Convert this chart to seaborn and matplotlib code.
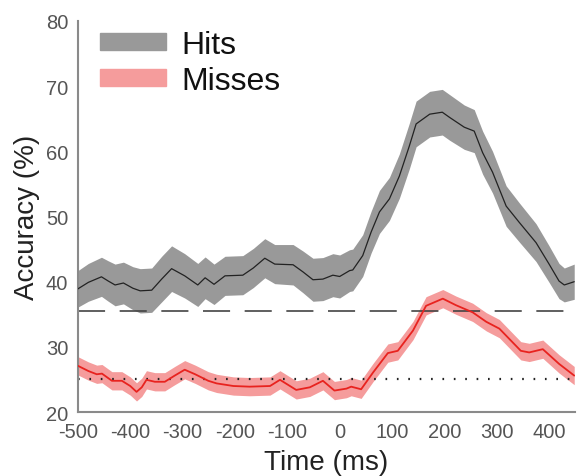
import matplotlib
matplotlib.use("Agg")
import matplotlib.pyplot as plt
import matplotlib.patches as mpatches
import seaborn as sns
import numpy as np
import pandas as pd

# ---- data ----
hits_t = [-500, -480, -455, -442, -429, -413, -395, -381, -359, -340, -321, -296, -271, -257,
          -240, -219, -185, -165, -143, -124, -89, -70, -51, -32, -13, 0, 19, 25, 44, 60, 76,
          95, 114, 133, 146, 172, 196, 210, 238, 257, 273, 292, 318, 343, 375, 400, 419, 429, 448]
hits_mean = [38.9, 39.9, 40.75, 40.1, 39.5, 39.8, 39.0, 38.6, 38.7, 40.4, 42.0, 40.9, 39.5, 40.6,
             39.6, 40.9, 41.0, 42.1, 43.6, 42.7, 42.6, 41.5, 40.3, 40.4, 41.0, 40.8, 41.7, 41.8,
             44.0, 47.6, 50.7, 52.7, 56.2, 60.8, 64.2, 65.7, 66.0, 65.2, 63.7, 63.1, 59.8, 56.8,
             51.6, 49.1, 46.0, 42.7, 40.1, 39.5, 40.0]
hits_err = [2.8, 2.9, 3.0, 3.1, 3.2, 3.2, 3.3, 3.4, 3.4, 3.5, 3.5, 3.4, 3.3, 3.2,
            3.1, 3.0, 3.0, 3.0, 3.0, 3.0, 3.1, 3.2, 3.3, 3.3, 3.3, 3.3, 3.2, 3.2,
            3.2, 3.2, 3.3, 3.3, 3.4, 3.5, 3.5, 3.5, 3.5, 3.5, 3.4, 3.3, 3.3, 3.2,
            3.1, 3.0, 2.9, 2.8, 2.7, 2.6, 2.7]

miss_t = [-500, -480, -464, -454, -435, -416, -400, -388, -378, -369, -353, -334, -315, -296,
          -276, -251, -235, -203, -172, -133, -114, -83, -57, -32, -10, 13, 22, 41, 64, 92, 111,
          140, 165, 197, 222, 254, 280, 305, 346, 362, 388, 419, 448]
miss_mean = [27.1, 26.3, 25.8, 25.9, 24.8, 24.8, 24.0, 23.1, 23.8, 24.95, 24.65, 24.65, 25.6, 26.5,
             25.8, 24.8, 24.4, 24.0, 23.9, 24.0, 24.95, 23.4, 23.8, 24.8, 23.3, 23.6, 23.9, 23.5,
             26.1, 29.05, 29.4, 32.5, 36.3, 37.4, 36.4, 35.3, 33.85, 32.8, 29.4, 29.15, 29.65,
             27.4, 25.6]
miss_err = [1.4] * len(miss_t)

dashed_level = 35.5
chance_level = 25.0

x_ticks = [-500, -400, -300, -200, -100, 0, 100, 200, 300, 400]
y_ticks = [20, 30, 40, 50, 60, 70, 80]
series_labels = ["Hits", "Misses"]

# ---- styling ----
sns.set_style("white")
plt.rcParams['font.family'] = ['Liberation Sans', 'DejaVu Sans']

hits_band = "#999999"
miss_band = "#f59c9c"
miss_line = "#e8231f"
spine_col = "#8a8a8a"
tick_col = "#555555"

fig = plt.figure(figsize=(5.77, 4.77), dpi=100)
ax = fig.add_axes([0.135, 0.134, 0.862, 0.82])

hits_df = pd.DataFrame({"t": hits_t, "m": hits_mean, "e": hits_err})
miss_df = pd.DataFrame({"t": miss_t, "m": miss_mean, "e": miss_err})

ax.fill_between(hits_df.t, hits_df.m - hits_df.e, hits_df.m + hits_df.e,
                color=hits_band, lw=0, zorder=1)
ax.fill_between(miss_df.t, miss_df.m - miss_df.e, miss_df.m + miss_df.e,
                color=miss_band, lw=0, zorder=1)
sns.lineplot(data=hits_df, x="t", y="m", color="#222222", lw=0.9, ax=ax, zorder=3)
sns.lineplot(data=miss_df, x="t", y="m", color=miss_line, lw=1.3, ax=ax, zorder=3)

lw_d = 1.2
ax.axhline(dashed_level, color="#444444", lw=lw_d,
           linestyle=(0, (19.5 / lw_d, 10.5 / lw_d)), zorder=2)
lw_o = 1.6
ax.axhline(chance_level, color="#222222", lw=lw_o,
           linestyle=(0, (1.2 / lw_o, 7.0 / lw_o)), zorder=2)

ax.set_xlim(-500, 450)
ax.set_ylim(20, 80)
ax.set_xticks(x_ticks)
ax.set_yticks(y_ticks)
ax.set_xticklabels([f"{v}" for v in x_ticks])
ax.tick_params(axis="both", direction="in", length=5, width=1.2, color=spine_col,
               labelsize=14.5, labelcolor=tick_col)
ax.tick_params(axis="x", pad=7)
ax.tick_params(axis="y", pad=7)
for s in ["top", "right"]:
    ax.spines[s].set_visible(False)
for s in ["left", "bottom"]:
    ax.spines[s].set_color(spine_col)
    ax.spines[s].set_linewidth(1.5)

ax.set_xlabel("Time (ms)", fontsize=20, color="#222222", labelpad=6)
ax.set_ylabel("Accuracy (%)", fontsize=20, color="#222222", labelpad=4)

handles = [mpatches.Patch(color=hits_band, label=series_labels[0]),
           mpatches.Patch(color=miss_band, label=series_labels[1])]
leg = ax.legend(handles=handles, loc="upper left", bbox_to_anchor=(0.0, 1.035),
                frameon=False, fontsize=23, handlelength=2.05, handleheight=0.45,
                handletextpad=0.5, labelspacing=0.2, borderpad=0.2)
for t in leg.get_texts():
    t.set_color("#111111")

fig.savefig("out.png", dpi=100)
